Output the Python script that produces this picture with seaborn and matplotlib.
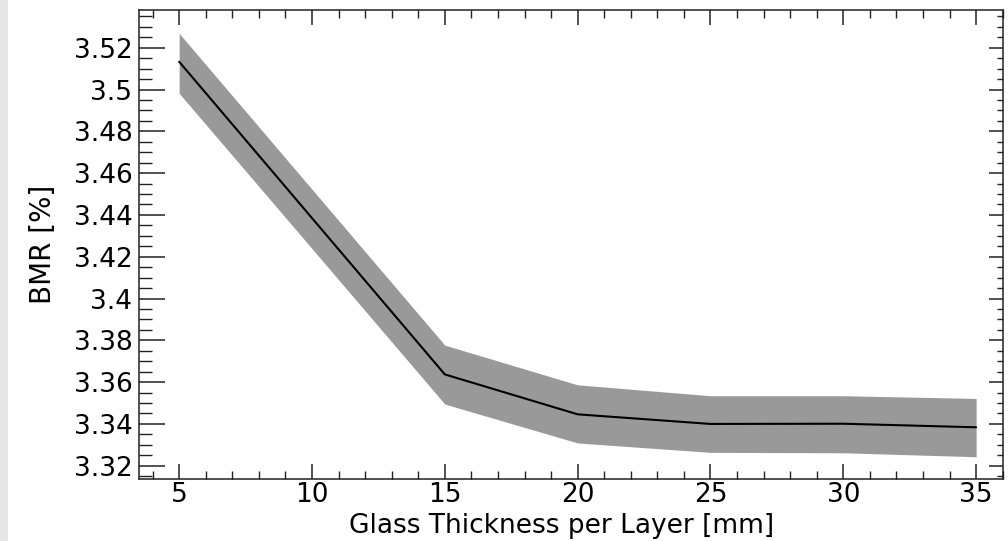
import numpy as np
import pandas as pd
import matplotlib
matplotlib.use("Agg")
import matplotlib.pyplot as plt
from matplotlib.patches import Rectangle
from matplotlib.ticker import FixedLocator, MultipleLocator, NullFormatter
import seaborn as sns

# ---- data ----
thickness = [5, 10, 15, 20, 25, 30, 35]
bmr = [3.5133, 3.4385, 3.3637, 3.3446, 3.3400, 3.3401, 3.3384]
bmr_upper = [3.5269, 3.4523, 3.3777, 3.3587, 3.3535, 3.3535, 3.3522]
bmr_lower = [3.4982, 3.4239, 3.3495, 3.3309, 3.3264, 3.3262, 3.3243]
xtick_values = [5, 10, 15, 20, 25, 30, 35]
xtick_labels = ["5", "10", "15", "20", "25", "30", "35"]
ytick_values = [3.32, 3.34, 3.36, 3.38, 3.40, 3.42, 3.44, 3.46, 3.48, 3.50, 3.52]
ytick_labels = ["3.32", "3.34", "3.36", "3.38", "3.4", "3.42", "3.44", "3.46", "3.48", "3.5", "3.52"]
x_label = "Glass Thickness per Layer [mm]"
y_label = "BMR [%]"

df = pd.DataFrame({"thickness": thickness, "bmr": bmr})

sns.set_theme(style="ticks")
plt.rcParams["font.family"] = ["DejaVu Sans"]
plt.rcParams["text.color"] = "black"
plt.rcParams["axes.labelcolor"] = "black"
plt.rcParams["xtick.color"] = "black"
plt.rcParams["ytick.color"] = "black"

W, H = 1008, 541
fig = plt.figure(figsize=(W / 100, H / 100), dpi=100)
fig.patch.set_facecolor("white")
fig.patches.append(Rectangle((0, 0), 8 / W, 1, transform=fig.transFigure,
                             facecolor="#e6e6e6", edgecolor="none", zorder=0))

left, right, top, bottom = 139.3, 1002.7, 10.3, 478.7
ax = fig.add_axes([left / W, 1 - bottom / H, (right - left) / W, (bottom - top) / H])

ax.fill_between(thickness, bmr_lower, bmr_upper, color="#999999", linewidth=0, zorder=1)
sns.lineplot(data=df, x="thickness", y="bmr", ax=ax, color="black", linewidth=1.5, zorder=2)

ax.set_xlim(3.5, 36)
ax.set_ylim(3.3138, 3.5379)

axis_col = "#222222"
for s in ax.spines.values():
    s.set_color(axis_col)
    s.set_linewidth(1.1)

fs = 19
ax.xaxis.set_major_locator(FixedLocator(xtick_values))
ax.set_xticklabels(xtick_labels, fontsize=fs, color="black")
ax.xaxis.set_minor_locator(MultipleLocator(1))
ax.yaxis.set_major_locator(FixedLocator(ytick_values))
ax.set_yticklabels(ytick_labels, fontsize=fs, color="black")
ax.yaxis.set_minor_locator(MultipleLocator(0.005))

ax.tick_params(axis="x", which="major", direction="in", length=10.5, width=1.1,
               color=axis_col, top=True, bottom=True, pad=2.5)
ax.tick_params(axis="x", which="minor", direction="in", length=5.5, width=1.0,
               color=axis_col, top=True, bottom=True)
ax.tick_params(axis="y", which="major", direction="in", length=19, width=1.1,
               color=axis_col, left=True, right=False, pad=5)
ax.tick_params(axis="y", which="minor", direction="in", length=9.6, width=1.0,
               color=axis_col, left=True, right=False)

ax2 = ax.twinx()
ax2.set_ylim(ax.get_ylim())
ax2.yaxis.set_major_locator(FixedLocator(ytick_values))
ax2.yaxis.set_minor_locator(MultipleLocator(0.005))
ax2.yaxis.set_major_formatter(NullFormatter())
ax2.tick_params(axis="y", which="major", direction="in", length=10, width=1.1, color=axis_col)
ax2.tick_params(axis="y", which="minor", direction="in", length=4.5, width=1.0, color=axis_col)
for s in ax2.spines.values():
    s.set_visible(False)

ax.set_xlabel(x_label, fontsize=fs, color="black")
ax.xaxis.label.set_va("baseline")
ax.set_ylabel(y_label, fontsize=20, color="black")
ax.xaxis.set_label_coords(0.489, -(533 - bottom) / (bottom - top))
ax.yaxis.set_label_coords(-0.0953, 0.5)

fig.savefig("out.png", dpi=100)
